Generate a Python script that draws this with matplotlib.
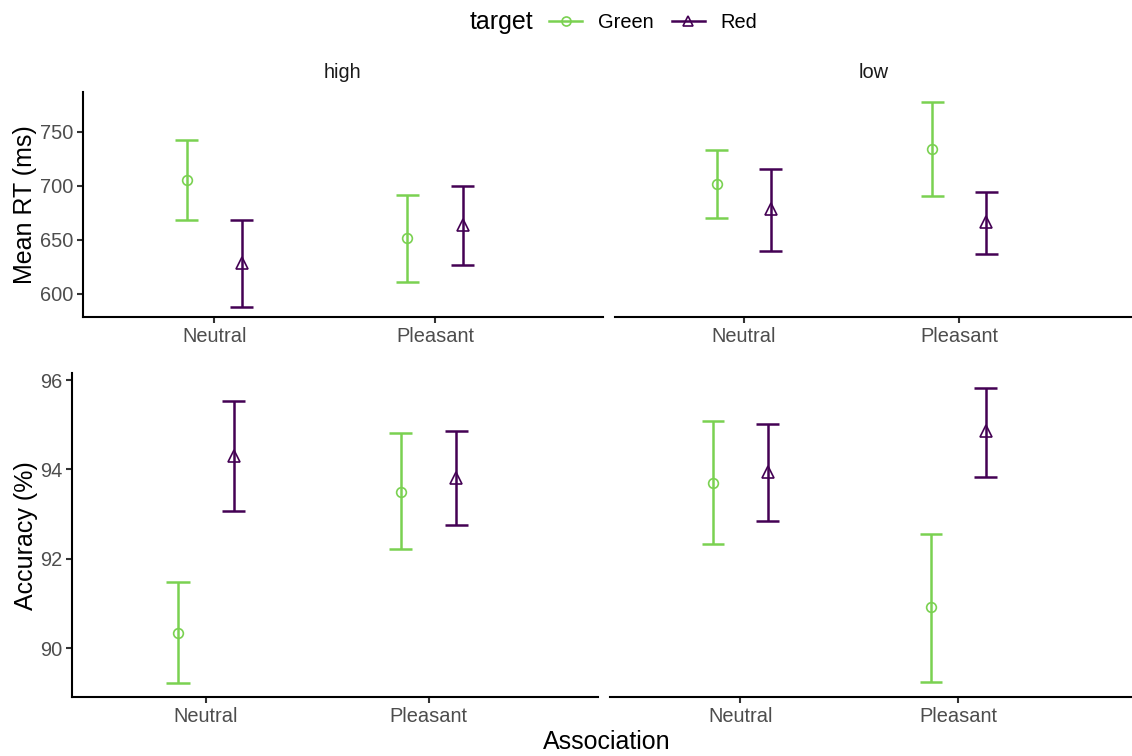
import matplotlib
matplotlib.use("Agg")
import matplotlib.pyplot as plt
from matplotlib.lines import Line2D

plt.rcParams['font.family'] = ['Liberation Sans', 'DejaVu Sans']

associations = ["Neutral", "Pleasant"]
levels = ["high", "low"]
targets = ["Green", "Red"]
colors = {"Green": "#7AD151", "Red": "#440154"}
markers = {"Green": "o", "Red": "^"}

# Mean RT (ms): [level][target] -> values per association
rt_mean = {"high": {"Green": [705.6, 651.6], "Red": [629.0, 663.5]},
           "low":  {"Green": [701.6, 734.6], "Red": [678.4, 666.4]}}
rt_lo = {"high": {"Green": [668.5, 611.4], "Red": [587.7, 626.5]},
         "low":  {"Green": [670.4, 690.7], "Red": [639.8, 636.7]}}
rt_hi = {"high": {"Green": [742.6, 692.0], "Red": [668.5, 699.7]},
         "low":  {"Green": [733.0, 778.0], "Red": [715.4, 694.8]}}

# Accuracy (%)
acc_mean = {"high": {"Green": [90.34, 93.50], "Red": [94.31, 93.80]},
            "low":  {"Green": [93.70, 90.91], "Red": [93.95, 94.85]}}
acc_lo = {"high": {"Green": [89.22, 92.21], "Red": [93.06, 92.75]},
          "low":  {"Green": [92.33, 89.25], "Red": [92.85, 93.84]}}
acc_hi = {"high": {"Green": [91.47, 94.81], "Red": [95.52, 94.85]},
          "low":  {"Green": [95.09, 92.56], "Red": [95.02, 95.83]}}

rt_ticks = [600, 650, 700, 750]
acc_ticks = [90, 92, 94, 96]

W, H = 1132, 756
fig = plt.figure(figsize=(W / 100, H / 100), dpi=100)

def frac(x0, x1, ytop, ybot):
    return [x0 / W, 1 - ybot / H, (x1 - x0) / W, (ybot - ytop) / H]

panels = {
    ("rt", "high"): frac(82.7, 602.7, 92, 317.3),
    ("rt", "low"): frac(615, 1132, 92, 317.3),
    ("acc", "high"): frac(72.3, 597.7, 373.3, 697.3),
    ("acc", "low"): frac(610, 1132, 373.3, 697.3),
}
xlims = {
    ("rt", "high"): (-0.596, 1.76),
    ("rt", "low"): (-0.596, 1.80),
    ("acc", "high"): (-0.6, 1.76),
    ("acc", "low"): (-0.598, 1.797),
}
ylims = {"rt": (578.4, 787.0), "acc": (88.9, 96.15)}

dodge = 0.125
cap = 0.052
lw = 1.8
tick_col = "#333333"
lab_col = "#4D4D4D"
msize = {"Green": 7, "Red": 8}

for metric in ["rt", "acc"]:
    if metric == "rt":
        m, lo, hi, ticks = rt_mean, rt_lo, rt_hi, rt_ticks
    else:
        m, lo, hi, ticks = acc_mean, acc_lo, acc_hi, acc_ticks
    for li, level in enumerate(levels):
        ax = fig.add_axes(panels[(metric, level)])
        for ti, t in enumerate(targets):
            off = -dodge if t == "Green" else dodge
            xs = [i + off for i in range(len(associations))]
            ax.vlines(xs, lo[level][t], hi[level][t], color=colors[t], lw=lw)
            ax.hlines(lo[level][t], [x - cap for x in xs], [x + cap for x in xs], color=colors[t], lw=lw)
            ax.hlines(hi[level][t], [x - cap for x in xs], [x + cap for x in xs], color=colors[t], lw=lw)
            ax.plot(xs, m[level][t], linestyle="none", marker=markers[t],
                    markersize=msize[t], markerfacecolor="none",
                    markeredgecolor=colors[t], markeredgewidth=1.2)
        ax.set_xlim(*xlims[(metric, level)])
        ax.set_ylim(*ylims[metric])
        ax.set_xticks(range(len(associations)))
        ax.set_xticklabels(associations)
        ax.set_yticks(ticks)
        for s in ["top", "right"]:
            ax.spines[s].set_visible(False)
        ax.spines["bottom"].set_linewidth(1.5)
        ax.spines["left"].set_linewidth(1.5)
        ax.tick_params(axis="both", length=4, width=1.5, color=tick_col,
                       labelsize=14.4, labelcolor=lab_col, pad=3)
        if level == "low":
            ax.spines["left"].set_visible(False)
            ax.tick_params(axis="y", left=False, labelleft=False)
        ax.patch.set_alpha(0)
        if metric == "rt":
            ax.text(0.5, 1 + 10 / 225.3, level, transform=ax.transAxes, ha="center",
                    va="bottom", fontsize=14.4, color="#1A1A1A")

fig.text(25 / W, 1 - 204.7 / H, "Mean RT (ms)", rotation=90, ha="center",
         va="center", fontsize=18, color="black")
fig.text(26 / W, 1 - 535.3 / H, "Accuracy (%)", rotation=90, ha="center",
         va="center", fontsize=18, color="black")
fig.text(607 / W, 1 - 742 / H, "Association", ha="center", va="center",
         fontsize=18, color="black")

# Legend
fig.text(470 / W, 1 - 22 / H, "target", ha="left", va="center", fontsize=18)
handles = [Line2D([0], [0], color=colors[t], lw=lw, marker=markers[t],
                  markerfacecolor="none", markeredgecolor=colors[t],
                  markersize=6.5, markeredgewidth=1.2) for t in targets]
fig.legend(handles, targets, ncol=2, loc="center left",
           bbox_to_anchor=(549 / W, 1 - 22 / H), frameon=False,
           fontsize=14.4, handlelength=1.65, handletextpad=0.8,
           columnspacing=0.9, borderpad=0, borderaxespad=0)

fig.savefig("out.png", dpi=100)
